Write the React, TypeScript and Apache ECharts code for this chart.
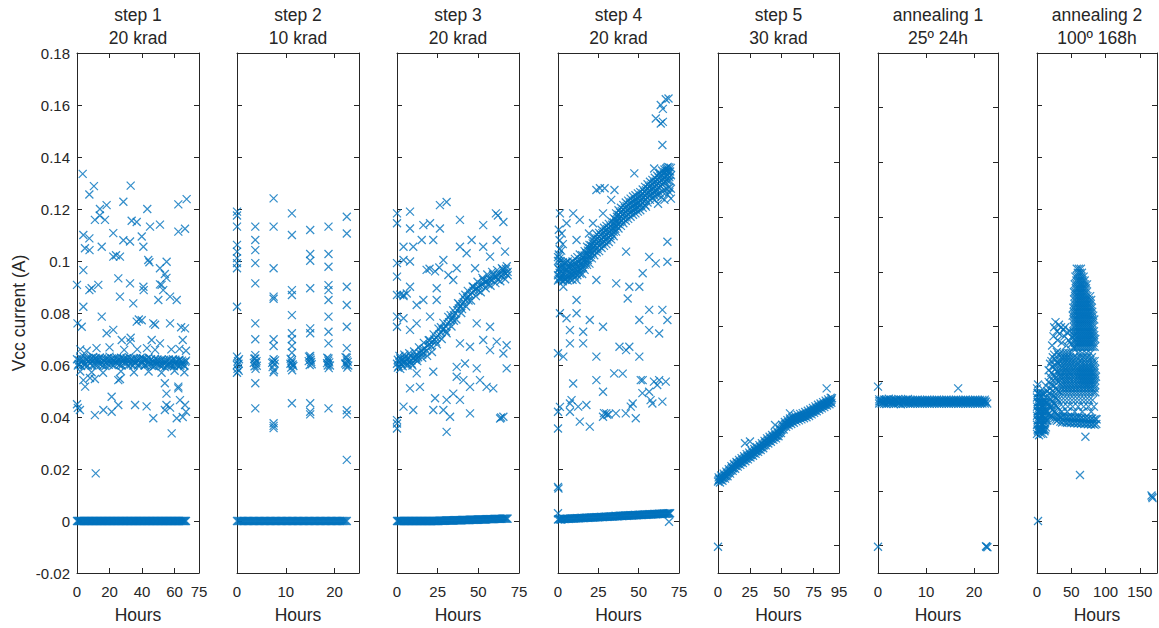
import React, { useEffect, useRef } from "react";
import * as echarts from "echarts";

// ---------- texts ----------
const panelTitles = ["step 1", "step 2", "step 3", "step 4", "step 5", "annealing 1", "annealing 2"];
const panelSubtitles = ["20 krad", "10 krad", "20 krad", "20 krad", "30 krad", "25º 24h", "100º 168h"];
const xAxisName = "Hours";
const yAxisName = "Vcc current (A)";

// ---------- x axes ----------
const xMaxes = [75, 25, 75, 75, 95, 25, 175];
const xIntervals = [20, 10, 25, 25, 25, 10, 50];
const xShowMax = [true, false, true, true, true, false, false];

// ---------- y axis ----------
const yMin = -0.02;
const yMax = 0.18;
const yInterval = 0.02;

// ---------- data: [hours, current A] ----------
const step1Zero = [[0,0],[0.5,0],[1,0],[1.5,0],[2,0],[2.5,0],[3,0],[3.5,0],[4,0],[4.5,0],[5,0],[5.5,0],[6,0],[6.5,0],[7,0],[7.5,0],[8,0],[8.5,0],[9,0],[9.5,0],[10,0],[10.5,0],[11,0],[11.5,0],[12,0],[12.5,0],[13,0],[13.5,0],[14,0],[14.5,0],[15,0],[15.5,0],[16,0],[16.5,0],[17,0],[17.5,0],[18,0],[18.5,0],[19,0],[19.5,0],[20,0],[20.5,0],[21,0],[21.5,0],[22,0],[22.5,0],[23,0],[23.5,0],[24,0],[24.5,0],[25,0],[25.5,0],[26,0],[26.5,0],[27,0],[27.5,0],[28,0],[28.5,0],[29,0],[29.5,0],[30,0],[30.5,0],[31,0],[31.5,0],[32,0],[32.5,0],[33,0],[33.5,0],[34,0],[34.5,0],[35,0],[35.5,0],[36,0],[36.5,0],[37,0],[37.5,0],[38,0],[38.5,0],[39,0],[39.5,0],[40,0],[40.5,0],[41,0],[41.5,0],[42,0],[42.5,0],[43,0],[43.5,0],[44,0],[44.5,0],[45,0],[45.5,0],[46,0],[46.5,0],[47,0],[47.5,0],[48,0],[48.5,0],[49,0],[49.5,0],[50,0],[50.5,0],[51,0],[51.5,0],[52,0],[52.5,0],[53,0],[53.5,0],[54,0],[54.5,0],[55,0],[55.5,0],[56,0],[56.5,0],[57,0],[57.5,0],[58,0],[58.5,0],[59,0],[59.5,0],[60,0],[60.5,0],[61,0],[61.5,0],[62,0],[62.5,0],[63,0],[63.5,0],[64,0],[64.5,0],[65,0],[65.5,0],[66,0],[66.5,0],[67,0]];
const step1Band = [[0,0.0622],[1,0.0604],[2,0.0628],[3,0.0611],[4,0.0633],[5,0.0603],[6,0.0619],[7,0.0627],[8,0.0606],[9,0.0616],[10,0.0631],[11,0.0601],[12,0.0621],[13,0.0609],[14,0.0629],[15,0.0612],[16,0.0598],[17,0.0624],[18,0.0607],[19,0.0618],[20,0.0632],[21,0.0603],[22,0.0614],[23,0.0626],[24,0.0608],[25,0.062],[26,0.06],[27,0.0628],[28,0.0611],[29,0.0623],[30,0.0605],[31,0.0617],[32,0.063],[33,0.0602],[34,0.0613],[35,0.0625],[36,0.0608],[37,0.0619],[38,0.0603],[39,0.0627],[40,0.0611],[41,0.0622],[42,0.06],[43,0.0616],[44,0.0629],[45,0.0606],[46,0.0596],[47,0.0612],[48,0.0624],[49,0.0603],[50,0.0615],[51,0.0598],[52,0.0621],[53,0.0607],[54,0.0592],[55,0.0618],[56,0.0603],[57,0.0612],[58,0.0597],[59,0.0622],[60,0.0606],[61,0.0614],[62,0.0599],[63,0.062],[64,0.0604],[65,0.0611],[66,0.0596],[67,0.0617],
  [0.5,0.0598],[1.5,0.0618],[2.5,0.0596],[3.5,0.0621],[4.5,0.0599],[5.5,0.0624],[6.5,0.0597],[7.5,0.0615],[8.5,0.0626],[9.5,0.0598],[10.5,0.0619],[11.5,0.0627],[12.5,0.0599],[13.5,0.0622],[14.5,0.0601],[15.5,0.0625],[16.5,0.0614],[17.5,0.0596],[18.5,0.0626],[19.5,0.0601],[20.5,0.0617],[21.5,0.0625],[22.5,0.0599],[23.5,0.0612],[24.5,0.0627],[25.5,0.0608],[26.5,0.0621],[27.5,0.0598],[28.5,0.0624],[29.5,0.0611],[30.5,0.0626],[31.5,0.0599],[32.5,0.0614],[33.5,0.0624],[34.5,0.0598],[35.5,0.061],[36.5,0.0625],[37.5,0.0598],[38.5,0.0621],[39.5,0.0604],[40.5,0.0626],[41.5,0.0598],[42.5,0.0621],[43.5,0.0603],[44.5,0.0614],[45.5,0.0622],[46.5,0.0609],[47.5,0.0595],[48.5,0.0611],[49.5,0.0621],[50.5,0.0602],[51.5,0.0616],[52.5,0.0597],[53.5,0.0619],[54.5,0.0608],[55.5,0.0596],[56.5,0.0621],[57.5,0.0603],[58.5,0.0616],[59.5,0.0595],[60.5,0.062],[61.5,0.0602],[62.5,0.0618],[63.5,0.0597],[64.5,0.0617],[65.5,0.0601],[66.5,0.0612]];
const step1Scatter = [[3.5,0.1335],[10.4,0.1288],[7.6,0.1256],[33,0.129],[28.5,0.1228],[43.2,0.12],[62.3,0.1218],[67.4,0.1238],[14.1,0.12],[14,0.1175],[18.2,0.1215],[11,0.1158],[17.2,0.1158],[33.6,0.1155],[36.7,0.115],[44.9,0.1132],[51,0.114],[62.3,0.1113],[66.4,0.1124],[3.9,0.11],[7.6,0.1087],[22.3,0.1107],[28.5,0.108],[39.8,0.1094],[32.6,0.1075],[4.9,0.1049],[7.7,0.1042],[15.2,0.1055],[40.8,0.1055],[22.3,0.1017],[24,0.1022],[26.4,0.1017],[43.8,0.1004],[44.5,0.0995],[55.1,0.0997],[51,0.0972],[3.9,0.0965],[0,0.0908],[13.1,0.0908],[7.6,0.0888],[9,0.0895],[25.4,0.0933],[32.6,0.0914],[40.8,0.0901],[41,0.0888],[52,0.0908],[53,0.0888],[54,0.095],[55,0.0935],[57.2,0.0863],[61.3,0.085],[26.4,0.0863],[34.6,0.0837],[3.9,0.0824],[50,0.085],[51,0.091],[15.2,0.0786],[0.3,0.076],[2.9,0.0747],[36.7,0.0767],[39.8,0.0772],[38,0.0775],[46.9,0.076],[48,0.0755],[57.2,0.076],[66.4,0.0741],[64,0.0745],[18.2,0.0722],[22.3,0.0735],[32.6,0.069],[51,0.0683],[45.9,0.0696],[65,0.0696],[27.5,0.0696],[33,0.0705],[2,0.066],[6,0.0655],[12,0.0665],[20,0.0668],[29,0.0658],[37,0.066],[43,0.0665],[48,0.0658],[58,0.066],[63,0.0662],[67,0.0655],[2,0.0575],[9,0.0572],[16,0.057],[27,0.0576],[35,0.0572],[44,0.0575],[52,0.057],[60,0.0578],[66,0.0572],[3.9,0.0542],[8,0.055],[5,0.0517],[11,0.0546],[25.4,0.0542],[26.4,0.0546],[54,0.053],[55,0.049],[62.3,0.051],[62.3,0.0517],[21.3,0.0478],[0,0.0449],[0.5,0.0435],[1.8,0.0427],[11,0.0407],[16.2,0.0427],[21.3,0.042],[25.4,0.0446],[35.7,0.0446],[42.8,0.0441],[46.9,0.0395],[54,0.0427],[55,0.0446],[57.2,0.0436],[61.3,0.0395],[63.3,0.0465],[65,0.04],[66.4,0.0446],[67,0.042],[58.2,0.0337],[11.5,0.0183]];

const step2Zero = [[0,0],[0.25,0],[0.5,0],[0.75,0],[1,0],[1.25,0],[1.5,0],[1.75,0],[2,0],[2.25,0],[2.5,0],[2.75,0],[3,0],[3.25,0],[3.5,0],[3.75,0],[4,0],[4.25,0],[4.5,0],[4.75,0],[5,0],[5.25,0],[5.5,0],[5.75,0],[6,0],[6.25,0],[6.5,0],[6.75,0],[7,0],[7.25,0],[7.5,0],[7.75,0],[8,0],[8.25,0],[8.5,0],[8.75,0],[9,0],[9.25,0],[9.5,0],[9.75,0],[10,0],[10.25,0],[10.5,0],[10.75,0],[11,0],[11.25,0],[11.5,0],[11.75,0],[12,0],[12.25,0],[12.5,0],[12.75,0],[13,0],[13.25,0],[13.5,0],[13.75,0],[14,0],[14.25,0],[14.5,0],[14.75,0],[15,0],[15.25,0],[15.5,0],[15.75,0],[16,0],[16.25,0],[16.5,0],[16.75,0],[17,0],[17.25,0],[17.5,0],[17.75,0],[18,0],[18.25,0],[18.5,0],[18.75,0],[19,0],[19.25,0],[19.5,0],[19.75,0],[20,0],[20.25,0],[20.5,0],[20.75,0],[21,0],[21.25,0],[21.5,0],[21.75,0],[22,0],[22.25,0],[22.5,0]];
const step2Band = [[0,0.0632],[0.2,0.0615],[0,0.06],[0.1,0.0585],[0,0.057],[0.3,0.0605],[0.4,0.0622],[0.35,0.0578],[3.75,0.0625],[3.9,0.0608],[3.6,0.0595],[3.8,0.0585],[4,0.0615],[3.45,0.0608],[4.05,0.0597],[3.55,0.0624],[7.5,0.0622],[7.7,0.0605],[7.3,0.0592],[7.6,0.058],[7.4,0.0612],[7.5,0.0572],[7.2,0.0608],[7.8,0.0618],[11.25,0.0618],[11.4,0.0602],[11.1,0.059],[11.3,0.058],[11.2,0.061],[10.95,0.0605],[11.55,0.0596],[11.0,0.0624],[15,0.0628],[15.2,0.0612],[14.9,0.06],[15.1,0.062],[15,0.0635],[14.7,0.0615],[15.3,0.0603],[14.75,0.0632],[18.75,0.0625],[18.9,0.061],[18.6,0.0598],[18.8,0.0588],[18.7,0.0617],[18.45,0.0607],[19.05,0.0598],[18.5,0.0628],[22.5,0.0628],[22.7,0.0612],[22.4,0.06],[22.6,0.059],[22.5,0.0618],[22.2,0.0606],[22.8,0.0598],[22.25,0.063]];
const step2Scatter = [[0,0.119],[0,0.1175],[0,0.1132],[0,0.1062],[0,0.1036],[0,0.1011],[0,0.0992],[0,0.0972],[0,0.0824],[3.75,0.1132],[3.75,0.1081],[3.75,0.1042],[3.75,0.0992],[3.75,0.0914],[3.75,0.076],[3.75,0.0699],[3.75,0.0638],[3.75,0.053],[3.75,0.0433],[7.5,0.1241],[7.5,0.1132],[7.5,0.0972],[7.5,0.0863],[7.5,0.0855],[7.5,0.0699],[7.5,0.0673],[7.5,0.0376],[7.5,0.0366],[7.5,0.0357],[11.25,0.1183],[11.25,0.11],[11.25,0.0888],[11.25,0.0869],[11.25,0.0792],[11.25,0.0722],[11.25,0.0699],[11.25,0.0673],[11.25,0.0647],[11.25,0.0453],[15,0.1119],[15,0.1027],[15,0.1001],[15,0.0895],[15,0.0741],[15,0.0722],[15,0.0453],[15,0.042],[15,0.041],[18.75,0.1132],[18.75,0.1027],[18.75,0.0978],[18.75,0.0907],[18.75,0.0888],[18.75,0.085],[18.75,0.0786],[18.75,0.0728],[18.75,0.0683],[18.75,0.0433],[22.5,0.117],[22.5,0.1106],[22.5,0.0901],[22.5,0.0831],[22.5,0.0747],[22.5,0.0665],[22.5,0.0426],[22.5,0.041],[22.5,0.0235]];

const step3Zero = [[0,0],[0.5,0],[1,0],[1.5,0],[2,0],[2.5,0],[3,0],[3.5,0],[4,0],[4.5,0],[5,0],[5.5,0],[6,0],[6.5,0],[7,0],[7.5,0],[8,0],[8.5,0],[9,0],[9.5,0],[10,0],[10.5,0],[11,0],[11.5,0],[12,0],[12.5,0],[13,0],[13.5,0],[14,0],[14.5,0],[15,0],[15.5,0],[16,0],[16.5,0],[17,0],[17.5,0],[18,0],[18.5,0],[19,0],[19.5,0],[20,0],[20.5,0],[21,0],[21.5,0],[22,0],[22.5,0],[23,0],[23.5,0],[24,0],[24.5,0],[25,0],[25.5,0],[26,0.0001],[26.5,0.0001],[27,0.0001],[27.5,0.0001],[28,0.0001],[28.5,0.0001],[29,0.0001],[29.5,0.0001],[30,0.0002],[30.5,0.0002],[31,0.0002],[31.5,0.0002],[32,0.0002],[32.5,0.0002],[33,0.0002],[33.5,0.0002],[34,0.0002],[34.5,0.0002],[35,0.0003],[35.5,0.0003],[36,0.0003],[36.5,0.0003],[37,0.0003],[37.5,0.0003],[38,0.0003],[38.5,0.0003],[39,0.0003],[39.5,0.0003],[40,0.0004],[40.5,0.0004],[41,0.0004],[41.5,0.0004],[42,0.0004],[42.5,0.0004],[43,0.0004],[43.5,0.0004],[44,0.0004],[44.5,0.0004],[45,0.0005],[45.5,0.0005],[46,0.0005],[46.5,0.0005],[47,0.0005],[47.5,0.0005],[48,0.0005],[48.5,0.0005],[49,0.0005],[49.5,0.0005],[50,0.0006],[50.5,0.0006],[51,0.0006],[51.5,0.0006],[52,0.0006],[52.5,0.0006],[53,0.0006],[53.5,0.0006],[54,0.0006],[54.5,0.0006],[55,0.0007],[55.5,0.0007],[56,0.0007],[56.5,0.0007],[57,0.0007],[57.5,0.0007],[58,0.0007],[58.5,0.0007],[59,0.0007],[59.5,0.0007],[60,0.0008],[60.5,0.0008],[61,0.0008],[61.5,0.0008],[62,0.0008],[62.5,0.0008],[63,0.0008],[63.5,0.0008],[64,0.0008],[64.5,0.0008],[65,0.0009],[65.5,0.0009],[66,0.0009],[66.5,0.0009],[67,0.0009],[67.5,0.0009],[68,0.0009]];
const step3Band = [[0,0.0605],[0.5,0.062],[1,0.0595],[1.5,0.0612],[2,0.0625],[2.5,0.0605],[3,0.0618],[4,0.0608],[4.5,0.0625],[5,0.0612],[6,0.062],[6.5,0.0605],[7,0.0628],[8,0.0615],[8.5,0.0632],[9,0.0618],[10,0.0625],[11,0.0635],[11.5,0.062],[12,0.064],[13,0.063],[14,0.0645],[15,0.0655],[15.5,0.064],[16,0.066],[17,0.0665],[18,0.0655],[19,0.0675],[20,0.068],[21,0.0672],[22,0.069],[23,0.0698],[24,0.0705],[25,0.0712],[26,0.0718],[27,0.0725],[28,0.0735],[29,0.074],[30,0.0748],[31,0.0758],[32,0.0765],[33,0.0772],[34,0.078],[35,0.0792],[36,0.0798],[37,0.081],[38,0.0818],[39,0.0825],[40,0.0835],[41,0.0842],[42,0.085],[43,0.0858],[44,0.0865],[45,0.087],[46,0.0878],[47,0.0885],[48,0.0888],[49,0.0895],[50,0.09],[51,0.0905],[52,0.091],[53,0.0912],[54,0.0918],[55,0.0922],[56,0.0925],[57,0.093],[58,0.0928],[59,0.0935],[60,0.0938],[61,0.094],[62,0.0945],[63,0.0948],[64,0.0942],[65,0.095],[66,0.0955],[67,0.0952],[68,0.0958],[2,0.0585],[5,0.0632],[9,0.0605],[12,0.0625],[16,0.0645],[20,0.0695],[24,0.069],[27,0.0745],[30,0.073],[33,0.0792],[35,0.077],[38,0.0835],[40,0.0815],[42,0.087],[44,0.0848],[47,0.09],[50,0.0885],[53,0.0928],[56,0.091],[59,0.0948],[62,0.0928],[65,0.0968],[68,0.0945],[67,0.097],
  [1.5,0.0635],[4.5,0.064],[7.5,0.0645],[10.5,0.0652],[13.5,0.0668],[16.5,0.0685],[19.5,0.0695],[22.5,0.0718],[25.5,0.074],[28.5,0.0762],[31.5,0.0785],[34.5,0.081],[37.5,0.0838],[40.5,0.0862],[43.5,0.0885],[46.5,0.0902],[49.5,0.092],[52.5,0.0935],[55.5,0.0948],[58.5,0.0958],[61.5,0.0965],[64.5,0.0972],[67.5,0.098],
  [0.5,0.059],[3.5,0.0595],[6.5,0.0598],[9.5,0.0598],[12.5,0.0615],[15.5,0.0628],[18.5,0.0635],[21.5,0.065],[24.5,0.068],[27.5,0.07],[30.5,0.0722],[33.5,0.0748],[36.5,0.0775],[39.5,0.08],[42.5,0.0825],[45.5,0.0848],[48.5,0.0865],[51.5,0.088],[54.5,0.0895],[57.5,0.0905],[60.5,0.0915],[63.5,0.0922],[66.5,0.093]];
const step3Scatter = [[0,0.1183],[0,0.1145],[8,0.119],[26.4,0.1215],[30.5,0.1227],[38.7,0.1158],[60.8,0.1183],[62,0.1175],[65.4,0.115],[53,0.1138],[16.2,0.1138],[20.3,0.1145],[8,0.1125],[26.4,0.1125],[15.2,0.1081],[22.3,0.1081],[4,0.1055],[10,0.1055],[45.9,0.1081],[53,0.1055],[61.3,0.1081],[66.4,0.1036],[38.7,0.1055],[42.8,0.103],[57.2,0.1017],[28.5,0.1004],[4,0.1004],[8,0.0998],[0,0.0992],[18.2,0.0966],[20,0.097],[23.4,0.096],[26,0.0975],[31.6,0.0946],[34.6,0.0927],[36.7,0.0972],[48,0.0972],[0,0.094],[2,0.087],[4,0.0865],[6,0.0875],[8,0.0901],[24.4,0.0895],[4,0.0869],[0,0.0869],[16.2,0.085],[24.4,0.085],[12.1,0.0831],[4,0.078],[12.1,0.076],[20.3,0.0786],[0,0.0786],[0,0.0747],[8,0.0735],[49,0.076],[57.2,0.0747],[38.7,0.0683],[44.9,0.067],[53,0.0696],[61.3,0.069],[67.4,0.0676],[57.2,0.0657],[65.4,0.0644],[67.4,0.0587],[36.7,0.0593],[41.8,0.0606],[49,0.0587],[12.1,0.0568],[22.3,0.0574],[36.7,0.0555],[40.8,0.0542],[44.9,0.0516],[51,0.0542],[14.1,0.0516],[8,0.051],[55.1,0.0516],[59.2,0.051],[34.6,0.049],[38.7,0.0466],[23.4,0.0472],[30.5,0.0466],[4,0.044],[10,0.0427],[22.3,0.0427],[28.5,0.0427],[32.6,0.0401],[44.9,0.0414],[0,0.0388],[63.4,0.0394],[65.4,0.0401],[64,0.0398],[0,0.0356],[30.5,0.0343],[0,0.0375]];

const step4Zero = [[0,0.0006],[0.5,0.0007],[1,0.0007],[1.5,0.0006],[2,0.0006],[2.5,0.0007],[3,0.0008],[3.5,0.0008],[4,0.0007],[4.5,0.0008],[5,0.0008],[5.5,0.0009],[6,0.0009],[6.5,0.0008],[7,0.0008],[7.5,0.0009],[8,0.0009],[8.5,0.001],[9,0.001],[9.5,0.0009],[10,0.0009],[10.5,0.001],[11,0.001],[11.5,0.0011],[12,0.0011],[12.5,0.001],[13,0.001],[13.5,0.0011],[14,0.0011],[14.5,0.0012],[15,0.0012],[15.5,0.0011],[16,0.0011],[16.5,0.0012],[17,0.0012],[17.5,0.0013],[18,0.0013],[18.5,0.0012],[19,0.0012],[19.5,0.0013],[20,0.0013],[20.5,0.0014],[21,0.0014],[21.5,0.0013],[22,0.0013],[22.5,0.0014],[23,0.0014],[23.5,0.0015],[24,0.0015],[24.5,0.0014],[25,0.0014],[25.5,0.0015],[26,0.0015],[26.5,0.0016],[27,0.0016],[27.5,0.0015],[28,0.0015],[28.5,0.0016],[29,0.0016],[29.5,0.0017],[30,0.0017],[30.5,0.0016],[31,0.0016],[31.5,0.0017],[32,0.0017],[32.5,0.0018],[33,0.0018],[33.5,0.0017],[34,0.0017],[34.5,0.0018],[35,0.0018],[35.5,0.0019],[36,0.0019],[36.5,0.0018],[37,0.0018],[37.5,0.0019],[38,0.0019],[38.5,0.002],[39,0.002],[39.5,0.0019],[40,0.0019],[40.5,0.002],[41,0.002],[41.5,0.0021],[42,0.0021],[42.5,0.002],[43,0.002],[43.5,0.0021],[44,0.0021],[44.5,0.0022],[45,0.0022],[45.5,0.0021],[46,0.0021],[46.5,0.0022],[47,0.0022],[47.5,0.0023],[48,0.0023],[48.5,0.0022],[49,0.0022],[49.5,0.0023],[50,0.0023],[50.5,0.0024],[51,0.0024],[51.5,0.0023],[52,0.0023],[52.5,0.0024],[53,0.0024],[53.5,0.0025],[54,0.0025],[54.5,0.0024],[55,0.0024],[55.5,0.0025],[56,0.0025],[56.5,0.0026],[57,0.0026],[57.5,0.0025],[58,0.0025],[58.5,0.0026],[59,0.0026],[59.5,0.0027],[60,0.0027],[60.5,0.0026],[61,0.0026],[61.5,0.0027],[62,0.0027],[62.5,0.0028],[63,0.0028],[63.5,0.0027],[64,0.0027],[64.5,0.0028],[65,0.0028],[65.5,0.0029],[66,0.0029],[66.5,0.0028],[67,0.0028],[67.5,0.0029],[68,0.0029],[68.5,0.003],[69,0.0029],[69.5,0.003]];
const step4Band = [[0,0.0945],[0.5,0.097],[1,0.0955],[1.5,0.093],[2,0.0962],[2.5,0.0985],[3,0.095],[4,0.0958],[5,0.0942],[6,0.0962],[7,0.0955],[8,0.097],[9,0.0962],[10,0.0975],[11,0.0968],[12,0.098],[13,0.0975],[14,0.099],[15,0.0985],[16,0.1],[17,0.1005],[18,0.102],[19,0.1025],[20,0.1038],[21,0.1045],[22,0.1055],[23,0.106],[24,0.1068],[25,0.107],[26,0.108],[27,0.1085],[28,0.1092],[29,0.1095],[30,0.11],[31,0.1108],[32,0.111],[33,0.1118],[34,0.1125],[35,0.1135],[36,0.1148],[37,0.1155],[38,0.1165],[39,0.117],[40,0.1178],[41,0.1182],[42,0.119],[43,0.1195],[44,0.12],[45,0.1205],[46,0.121],[47,0.1215],[48,0.1218],[49,0.1222],[50,0.1225],[51,0.123],[52,0.1238],[53,0.1245],[54,0.125],[55,0.1258],[56,0.1265],[57,0.127],[58,0.1275],[59,0.128],[60,0.1285],[61,0.129],[62,0.1298],[63,0.1305],[64,0.131],[65,0.1315],[66,0.132],[67,0.1325],[68,0.133],[69,0.1322],[70,0.133],
  [0,0.1015],[1.5,0.1],[3,0.0995],[4.5,0.0992],[6,0.0998],[7.5,0.0992],[9,0.0998],[10.5,0.1008],[12,0.1015],[13.5,0.1025],[15,0.1022],[16.5,0.1038],[18,0.1055],[19.5,0.1062],[21,0.108],[22.5,0.1092],[24,0.1103],[25.5,0.1108],[27,0.112],[28.5,0.1128],[30,0.1135],[31.5,0.1143],[33,0.1153],[34.5,0.1165],[36,0.1183],[37.5,0.1195],[39,0.1205],[40.5,0.1215],[42,0.1225],[43.5,0.1232],[45,0.124],[46.5,0.1248],[48,0.1253],[49.5,0.126],[51,0.1265],[52.5,0.1275],[54,0.1285],[55.5,0.1295],[57,0.1305],[58.5,0.1312],[60,0.132],[61.5,0.1328],[63,0.134],[64.5,0.1348],[66,0.1352],[67.5,0.1358],[69,0.136],[70,0.1358],
  [0,0.0925],[1.5,0.0935],[3,0.0922],[4.5,0.0928],[6,0.0925],[7.5,0.093],[9,0.0928],[10.5,0.094],[12,0.0945],[13.5,0.0952],[15,0.095],[16.5,0.0966],[18,0.0985],[19.5,0.099],[21,0.101],[22.5,0.1022],[24,0.1033],[25.5,0.1038],[27,0.105],[28.5,0.1058],[30,0.1065],[31.5,0.1073],[33,0.1083],[34.5,0.1095],[36,0.1113],[37.5,0.1125],[39,0.1135],[40.5,0.1145],[42,0.1155],[43.5,0.1162],[45,0.117],[46.5,0.1178],[48,0.1183],[49.5,0.119],[51,0.1195],[52.5,0.1205],[54,0.1215],[55.5,0.1225],[57,0.1235],[58.5,0.1242],[60,0.125],[61.5,0.1255],[63,0.1262],[64.5,0.1268],[66,0.1272],[67.5,0.1278],[69,0.1282],[70,0.1278],
  [1,0.101],[2,0.104],[1,0.1045],[0.5,0.1025],[0,0.1],[5,0.0995],[60,0.1235],[62,0.122],[64,0.1245],[66,0.1235],[68,0.1255],[70,0.124],[69,0.1265],[61,0.1268],[63,0.1335],[67,0.1355],[68,0.1362]];
const step4BandFill = [[0.5,0.0968],[1.5,0.0976],[2.5,0.0974],[3.5,0.0972],[4.5,0.0968],[5.5,0.097],[6.5,0.0976],[7.5,0.098],[8.5,0.0984],[9.5,0.0986],[10.5,0.099],[11.5,0.0992],[12.5,0.0996],[13.5,0.1],[14.5,0.1006],[15.5,0.1011],[16.5,0.1021],[17.5,0.103],[18.5,0.104],[19.5,0.105],[20.5,0.106],[21.5,0.1068],[22.5,0.1076],[23.5,0.1082],[24.5,0.1087],[25.5,0.1093],[26.5,0.1101],[27.5,0.1107],[28.5,0.1112],[29.5,0.1116],[30.5,0.1122],[31.5,0.1127],[32.5,0.1132],[33.5,0.114],[34.5,0.1148],[35.5,0.116],[36.5,0.117],[37.5,0.1178],[38.5,0.1186],[39.5,0.1192],[40.5,0.1198],[41.5,0.1204],[42.5,0.1211],[43.5,0.1216],[44.5,0.1221],[45.5,0.1226],[46.5,0.1231],[47.5,0.1235],[48.5,0.1238],[49.5,0.1242],[50.5,0.1246],[51.5,0.1252],[52.5,0.126],[53.5,0.1266],[54.5,0.1272],[55.5,0.128],[56.5,0.1286],[57.5,0.1291],[58.5,0.1296],[59.5,0.1301],[60.5,0.1306],[61.5,0.1312],[62.5,0.132],[63.5,0.1326],[64.5,0.1331],[65.5,0.1336],[66.5,0.1341],[67.5,0.1346],[68.5,0.1344],[69.5,0.1344],
  [0.5,0.0932],[1.5,0.094],[2.5,0.0938],[3.5,0.0936],[4.5,0.0932],[5.5,0.0934],[6.5,0.094],[7.5,0.0944],[8.5,0.0948],[9.5,0.095],[10.5,0.0954],[11.5,0.0956],[12.5,0.096],[13.5,0.0964],[14.5,0.097],[15.5,0.0975],[16.5,0.0985],[17.5,0.0994],[18.5,0.1004],[19.5,0.1014],[20.5,0.1024],[21.5,0.1032],[22.5,0.104],[23.5,0.1046],[24.5,0.1051],[25.5,0.1057],[26.5,0.1065],[27.5,0.1071],[28.5,0.1076],[29.5,0.108],[30.5,0.1086],[31.5,0.1091],[32.5,0.1096],[33.5,0.1104],[34.5,0.1112],[35.5,0.1124],[36.5,0.1134],[37.5,0.1142],[38.5,0.115],[39.5,0.1156],[40.5,0.1162],[41.5,0.1168],[42.5,0.1175],[43.5,0.118],[44.5,0.1185],[45.5,0.119],[46.5,0.1195],[47.5,0.1199],[48.5,0.1202],[49.5,0.1206],[50.5,0.121],[51.5,0.1216],[52.5,0.1224],[53.5,0.123],[54.5,0.1236],[55.5,0.1244],[56.5,0.125],[57.5,0.1255],[58.5,0.126],[59.5,0.1265],[60.5,0.127],[61.5,0.1276],[62.5,0.1284],[63.5,0.129],[64.5,0.1295],[65.5,0.13],[66.5,0.1305],[67.5,0.131],[68.5,0.1308],[69.5,0.1308]];
const step4Scatter = [[66.8,0.1622],[68.5,0.1625],[63.7,0.16],[65,0.1585],[60.6,0.1548],[63.7,0.1529],[65,0.1535],[64.7,0.1446],[47.3,0.1337],[59.6,0.1356],[23.8,0.1273],[26,0.128],[28.9,0.128],[35,0.1273],[33,0.1235],[54.5,0.1209],[1.2,0.1183],[9.4,0.1183],[5.3,0.1145],[13.5,0.1158],[21.7,0.1145],[27.9,0.1183],[19.2,0.1106],[2.3,0.1106],[11.5,0.1081],[0.5,0.112],[1,0.108],[3,0.1065],[42.2,0.1036],[56.5,0.1016],[60.6,0.0991],[67.8,0.1074],[67.8,0.0997],[52.5,0.0953],[50.4,0.0901],[36.1,0.0914],[44.2,0.0901],[43.2,0.0856],[23.8,0.0927],[11.5,0.0927],[3.3,0.0901],[11.5,0.085],[1.2,0.0799],[5.3,0.078],[11.5,0.0799],[19.7,0.0773],[27.9,0.0747],[7.4,0.0734],[15.6,0.0728],[50.4,0.0773],[56.5,0.0812],[64.7,0.0812],[67.8,0.0773],[56.5,0.0734],[62.7,0.0721],[7.4,0.0683],[0,0.0645],[3.3,0.0632],[15.6,0.0683],[23.8,0.0632],[38.1,0.067],[42.2,0.0657],[44.2,0.067],[50.4,0.0632],[40.1,0.0567],[9.4,0.0529],[23.8,0.0542],[27.9,0.0497],[52.5,0.0542],[56.5,0.0497],[62.7,0.0542],[66.8,0.0536],[7.4,0.0452],[17.6,0.0446],[1.2,0.0439],[46.3,0.0452],[58.5,0.0452],[64.7,0.0459],[29.9,0.0414],[27.9,0.0401],[30.6,0.0408],[31.5,0.041],[28.5,0.0415],[19.7,0.0363],[13.5,0.0382],[7.4,0.042],[0,0.042],[0,0.0356],[8.4,0.0465],[12.5,0.044],[35.9,0.0414],[42,0.0414],[48.2,0.0395],[45.1,0.044],[52.3,0.0492],[57.4,0.0465],[61.5,0.0523],[51.3,0.0542],[59.5,0.0536],[34.8,0.0568],[0,0.0131],[0.3,0.0125],[0,0.003],[68.8,-0.0003]];

const step5Band = [[0,0.0152],[1,0.0162],[2,0.0158],[3,0.0168],[4,0.0165],[5,0.0175],[6,0.0172],[7,0.0182],[8,0.0185],[9,0.0192],[10,0.0195],[11,0.0205],[12,0.0203],[13,0.0214],[14,0.0212],[15,0.0222],[16,0.0219],[17,0.0228],[18,0.0226],[19,0.0235],[20,0.0234],[21,0.0242],[22,0.024],[23,0.0249],[24,0.0247],[25,0.0256],[26,0.0254],[27,0.0263],[28,0.0261],[29,0.027],[30,0.0268],[31,0.0277],[32,0.0276],[33,0.0285],[34,0.0283],[35,0.0292],[36,0.0291],[37,0.0301],[38,0.0302],[39,0.031],[40,0.0308],[41,0.0317],[42,0.0315],[43,0.0324],[44,0.0322],[45,0.033],[46,0.0328],[47,0.0337],[48,0.0338],[49,0.0347],[50,0.0352],[51,0.0362],[52,0.0365],[53,0.0373],[54,0.0372],[55,0.038],[56,0.0378],[57,0.0386],[58,0.0383],[59,0.0391],[60,0.0389],[61,0.0395],[62,0.0393],[63,0.0399],[64,0.0397],[65,0.0402],[66,0.04],[67,0.0406],[68,0.0404],[69,0.041],[70,0.0409],[71,0.0416],[72,0.0414],[73,0.0421],[74,0.042],[75,0.0427],[76,0.0425],[77,0.0433],[78,0.0432],[79,0.0439],[80,0.0437],[81,0.0444],[82,0.0442],[83,0.0449],[84,0.0447],[85,0.0455],[86,0.0453],[87,0.046],[88,0.0458],[89,0.0466],[89.5,0.0472],
  [0.5,0.0168],[2.5,0.0175],[4.5,0.0182],[6.5,0.019],[8.5,0.0199],[10.5,0.0211],[12.5,0.0219],[14.5,0.0227],[16.5,0.0235],[18.5,0.0242],[20.5,0.0249],[22.5,0.0257],[24.5,0.0263],[26.5,0.027],[28.5,0.0277],[30.5,0.0284],[32.5,0.0292],[34.5,0.0299],[36.5,0.0308],[38.5,0.0318],[40.5,0.0324],[42.5,0.0331],[44.5,0.0338],[46.5,0.0344],[48.5,0.0355],[50.5,0.037],[52.5,0.0381],[54.5,0.0388],[56.5,0.0394],[58.5,0.0399],[60.5,0.0404],[62.5,0.0408],[64.5,0.0412],[66.5,0.0415],[68.5,0.0419],[70.5,0.0424],[72.5,0.0429],[74.5,0.0435],[76.5,0.0441],[78.5,0.0447],[80.5,0.0452],[82.5,0.0457],[84.5,0.0463],[86.5,0.0468],[88.5,0.0474],
  [1.5,0.0148],[3.5,0.0155],[5.5,0.0163],[7.5,0.0172],[9.5,0.0182],[11.5,0.0193],[13.5,0.0201],[15.5,0.0209],[17.5,0.0216],[19.5,0.0223],[21.5,0.023],[23.5,0.0237],[25.5,0.0244],[27.5,0.0251],[29.5,0.0258],[31.5,0.0266],[33.5,0.0273],[35.5,0.028],[37.5,0.0291],[39.5,0.0298],[41.5,0.0305],[43.5,0.0312],[45.5,0.0318],[47.5,0.0326],[49.5,0.0338],[51.5,0.0352],[53.5,0.0362],[55.5,0.0368],[57.5,0.0373],[59.5,0.0378],[61.5,0.0383],[63.5,0.0387],[65.5,0.0391],[67.5,0.0395],[69.5,0.0399],[71.5,0.0404],[73.5,0.041],[75.5,0.0416],[77.5,0.0422],[79.5,0.0428],[81.5,0.0433],[83.5,0.0438],[85.5,0.0444],[87.5,0.0449],[89,0.0455]];
const step5BandFill = [[0.5,0.0157],[1.5,0.016],[2.5,0.0163],[3.5,0.0166],[4.5,0.017],[5.5,0.0173],[6.5,0.0177],[7.5,0.0183],[8.5,0.0188],[9.5,0.0193],[10.5,0.02],[11.5,0.0204],[12.5,0.0208],[13.5,0.0213],[14.5,0.0217],[15.5,0.022],[16.5,0.0223],[17.5,0.0227],[18.5,0.023],[19.5,0.0234],[20.5,0.0238],[21.5,0.0241],[22.5,0.0244],[23.5,0.0248],[24.5,0.0251],[25.5,0.0255],[26.5,0.0258],[27.5,0.0262],[28.5,0.0265],[29.5,0.0269],[30.5,0.0272],[31.5,0.0276],[32.5,0.028],[33.5,0.0284],[34.5,0.0287],[35.5,0.0291],[36.5,0.0296],[37.5,0.0301],[38.5,0.0306],[39.5,0.0309],[40.5,0.0312],[41.5,0.0316],[42.5,0.0319],[43.5,0.0323],[44.5,0.0326],[45.5,0.0329],[46.5,0.0332],[47.5,0.0337],[48.5,0.0342],[49.5,0.0349],[50.5,0.0357],[51.5,0.0363],[52.5,0.0369],[53.5,0.0372],[54.5,0.0376],[55.5,0.0379],[56.5,0.0382],[57.5,0.0384],[58.5,0.0387],[59.5,0.039],[60.5,0.0392],[61.5,0.0394],[62.5,0.0396],[63.5,0.0398],[64.5,0.04],[65.5,0.0401],[66.5,0.0403],[67.5,0.0405],[68.5,0.0407],[69.5,0.0409],[70.5,0.0412],[71.5,0.0415],[72.5,0.0417],[73.5,0.042],[74.5,0.0423],[75.5,0.0426],[76.5,0.0429],[77.5,0.0432],[78.5,0.0435],[79.5,0.0438],[80.5,0.044],[81.5,0.0443],[82.5,0.0446],[83.5,0.0448],[84.5,0.0451],[85.5,0.0454],[86.5,0.0456],[87.5,0.0459],[88.5,0.0462]];
const step5Scatter = [[21.2,0.0299],[25.1,0.0306],[44.8,0.0369],[56.5,0.0414],[85.3,0.051],[0,-0.0099]];

const anneal1Band = [[0.5,0.0462],[1,0.0457],[1.5,0.0466],[2,0.0459],[2.5,0.0463],[3,0.0456],[3.5,0.0465],[4,0.046],[4.5,0.0455],[5,0.0463],[5.5,0.0458],[6,0.0464],[6.5,0.0457],[7,0.0461],[7.5,0.0456],[8,0.0462],[8.5,0.0459],[9,0.0461],[9.5,0.0458],[10,0.046],[10.5,0.0458],[11,0.0461],[11.5,0.0458],[12,0.046],[12.5,0.0458],[13,0.0461],[13.5,0.0458],[14,0.046],[14.5,0.0458],[15,0.0461],[15.5,0.0458],[16,0.046],[16.5,0.0458],[17,0.0461],[17.5,0.0458],[18,0.046],[18.5,0.0458],[19,0.0461],[19.5,0.0458],[20,0.046],[20.5,0.0458],[21,0.0461],[21.5,0.0458],[22,0.046],[22.5,0.0459],
  [0.25,0.0468],[1.25,0.0467],[2.25,0.047],[3.25,0.0468],[4.25,0.0469],[5.25,0.0467],[6.25,0.0469],[7.25,0.0466],[8.25,0.0467],[9.25,0.0466],[10.25,0.0467],[11.25,0.0466],[12.25,0.0467],[13.25,0.0466],[14.25,0.0467],[15.25,0.0466],[16.25,0.0467],[17.25,0.0466],[18.25,0.0467],[19.25,0.0466],[20.25,0.0467],[21.25,0.0466],[22.25,0.0467],
  [0.75,0.0452],[1.75,0.045],[2.75,0.0453],[3.75,0.0451],[4.75,0.0449],[5.75,0.0452],[6.75,0.0451],[7.75,0.0452],[8.75,0.0451],[9.75,0.0452],[10.75,0.0451],[11.75,0.0452],[12.75,0.0451],[13.75,0.0452],[14.75,0.0451],[15.75,0.0452],[16.75,0.0451],[17.75,0.0452],[18.75,0.0451],[19.75,0.0452],[20.75,0.0451],[21.75,0.0452],[22.75,0.0452]];
const anneal1BandFill = [[0.25,0.046],[0.75,0.0461],[1.25,0.0459],[1.75,0.0462],[2.25,0.0458],[2.75,0.0461],[3.25,0.046],[3.75,0.0462],[4.25,0.0459],[4.75,0.0461],[5.25,0.046],[5.75,0.0461],[6.25,0.0459],[6.75,0.046],[7.25,0.0459],[7.75,0.046],[8.25,0.0459],[8.75,0.046],[9.25,0.0459],[9.75,0.046],[10.25,0.0459],[10.75,0.046],[11.25,0.0459],[11.75,0.046],[12.25,0.0459],[12.75,0.046],[13.25,0.0459],[13.75,0.046],[14.25,0.0459],[14.75,0.046],[15.25,0.0459],[15.75,0.046],[16.25,0.0459],[16.75,0.046],[17.25,0.0459],[17.75,0.046],[18.25,0.0459],[18.75,0.046],[19.25,0.0459],[19.75,0.046],[20.25,0.0459],[20.75,0.046],[21.25,0.0459],[21.75,0.046],[22.25,0.0459],
  [0.75,0.0467],[1.75,0.0468],[2.75,0.0466],[3.75,0.0467],[4.75,0.0466],[5.75,0.0467],[6.75,0.0466],[7.75,0.0466],[8.75,0.0466],[9.75,0.0466],[10.75,0.0466],[11.75,0.0466],[12.75,0.0466],[13.75,0.0466],[14.75,0.0466],[15.75,0.0466],[16.75,0.0466],[17.75,0.0466],[18.75,0.0466],[19.75,0.0466],[20.75,0.0466],[21.75,0.0466],
  [0.25,0.0452],[1.25,0.0451],[2.25,0.0452],[3.25,0.0451],[4.25,0.0452],[5.25,0.0451],[6.25,0.0452],[7.25,0.0452],[8.25,0.0452],[9.25,0.0452],[10.25,0.0452],[11.25,0.0452],[12.25,0.0452],[13.25,0.0452],[14.25,0.0452],[15.25,0.0452],[16.25,0.0452],[17.25,0.0452],[18.25,0.0452],[19.25,0.0452],[20.25,0.0452],[21.25,0.0452],[22.25,0.0452]];
const anneal1Scatter = [[0,0.0517],[16.7,0.051],[0,-0.0099],[22.6,-0.0099],[22.8,-0.0101],[22.5,-0.0097]];

const anneal2Left = [[0,0.0335],[0,0.037],[0,0.0405],[0,0.044],[0,0.0475],[0,0.051],[1.5,0.0345],[1.5,0.0385],[1.5,0.042],[1.5,0.0455],[1.5,0.049],[1.5,0.0525],[3,0.033],[3,0.0365],[3,0.04],[3,0.0435],[3,0.047],[4.5,0.0345],[4.5,0.038],[4.5,0.0415],[4.5,0.045],[4.5,0.0485],[6,0.0335],[6,0.037],[6,0.0405],[6,0.044],[6,0.048],[7.5,0.035],[7.5,0.0385],[7.5,0.042],[7.5,0.0455],[9,0.0335],[9,0.037],[9,0.0405],[9,0.0445],[9,0.049],[11,0.0345],[11,0.038],[11,0.0415],[11,0.046],[13,0.036],[13,0.0395],[13,0.043],[13,0.0475],[13,0.052],[15,0.0385],[15,0.042],[15,0.0455],[15,0.05],
  [0.75,0.0352],[2.25,0.0352],[3.75,0.0352],[5.25,0.0352],[6.75,0.0352],[8.25,0.0352],[10,0.0352],[12,0.0352],[0.75,0.0388],[2.25,0.0388],[3.75,0.0388],[5.25,0.0388],[6.75,0.0388],[8.25,0.0388],[10,0.0388],[12,0.0388],[14,0.0388],[0.75,0.0422],[2.25,0.0422],[3.75,0.0422],[5.25,0.0422],[6.75,0.0422],[8.25,0.0422],[10,0.0422],[12,0.0422],[14,0.0422],[0.75,0.0457],[2.25,0.0457],[3.75,0.0457],[5.25,0.0457],[6.75,0.0457],[8.25,0.0457],[10,0.0457],[12,0.0457],[14,0.0457],[0.75,0.0492],[2.25,0.0492],[5.25,0.0492],[8.25,0.0492],[12,0.0492]];
const anneal2Stem = [[17,0.041],[17,0.045],[17,0.049],[17,0.0535],[17,0.058],[19,0.04],[19,0.0435],[19,0.047],[19,0.051],[19,0.0555],[19,0.0605],[21,0.0405],[21,0.0445],[21,0.0485],[21,0.0525],[21,0.057],[21,0.0615],[23,0.04],[23,0.043],[23,0.046],[23,0.05],[23,0.054],[23,0.059],[23,0.063],[25,0.0395],[25,0.042],[25,0.045],[25,0.048],[25,0.052],[25,0.056],[25,0.06],[25,0.064],[27,0.039],[27,0.0415],[27,0.0445],[27,0.0475],[27,0.051],[27,0.055],[27,0.0585],[27,0.062],[29,0.0385],[29,0.041],[29,0.044],[29,0.047],[29,0.0505],[29,0.054],[29,0.0575],[29,0.061],[29,0.065],[31,0.039],[31,0.0405],[31,0.0435],[31,0.0465],[31,0.05],[31,0.0535],[31,0.057],[31,0.0605],[31,0.064]];
const anneal2Bar = [[33,0.0402],[35.5,0.0399],[38,0.0403],[40.5,0.04],[43,0.0398],[45.5,0.0401],[48,0.0397],[50.5,0.04],[53,0.0396],[55.5,0.0399],[58,0.0395],[60.5,0.0398],[63,0.0394],[65.5,0.0397],[68,0.0393],[70.5,0.0396],[73,0.0392],[75.5,0.0395],[78,0.0391],[80.5,0.0394],[83,0.039],[85.5,0.0393],[87,0.0391],[34,0.0382],[36.5,0.0379],[39,0.0383],[41.5,0.038],[44,0.0378],[46.5,0.0381],[49,0.0377],[51.5,0.038],[54,0.0376],[56.5,0.0379],[59,0.0375],[61.5,0.0378],[64,0.0374],[66.5,0.0377],[69,0.0373],[71.5,0.0376],[74,0.0372],[76.5,0.0375],[79,0.0371],[81.5,0.0374],[84,0.037],[86.5,0.0373]];
const anneal2Blob = [[34,0.0645],[38,0.0645],[42,0.0645],[46,0.0645],[50,0.0645],[60,0.0645],[66,0.0645],[72,0.0645],[78,0.0645],[33,0.0615],[36,0.0615],[40,0.0615],[44,0.0615],[48,0.0615],[52,0.0615],[56,0.0615],[62,0.0615],[65,0.0615],[69,0.0615],[73,0.0615],[77,0.0615],[81,0.0615],[84,0.0615],[34,0.0585],[38,0.0585],[42,0.0585],[46,0.0585],[50,0.0585],[54,0.0585],[58,0.0585],[61,0.0585],[64,0.0585],[67,0.0585],[70,0.0585],[73,0.0585],[76,0.0585],[79,0.0585],[82,0.0585],[85,0.0585],[33,0.0555],[36,0.0555],[40,0.0555],[44,0.0555],[47,0.0555],[51,0.0555],[55,0.0555],[59,0.0555],[62,0.0555],[65,0.0555],[68,0.0555],[71,0.0555],[74,0.0555],[77,0.0555],[80,0.0555],[83,0.0555],[86,0.0555],[35,0.0525],[39,0.0525],[43,0.0525],[47,0.0525],[51,0.0525],[55,0.0525],[59,0.0525],[63,0.0525],[66,0.0525],[69,0.0525],[72,0.0525],[75,0.0525],[78,0.0525],[81,0.0525],[84,0.0525],[34,0.0495],[38,0.0495],[42,0.0495],[46,0.0495],[50,0.0495],[54,0.0495],[58,0.0495],[62,0.0495],[66,0.0495],[70,0.0495],[74,0.0495],[78,0.0495],[82,0.0495],[85,0.0495],[36,0.0465],[41,0.0465],[46,0.0465],[51,0.0465],[56,0.0465],[61,0.0465],[66,0.0465],[71,0.0465],[76,0.0465],[81,0.0465],[38,0.044],[45,0.044],[52,0.044],[60,0.044],[68,0.044],[75,0.044],[83,0.044],[36,0.042],[44,0.042],[55,0.042],[66,0.042],[79,0.042],
  [36,0.063],[40,0.063],[44,0.063],[48,0.063],[53,0.063],[58,0.063],[63,0.063],[68,0.063],[74,0.063],[80,0.063],[35,0.06],[39,0.06],[43,0.06],[47,0.06],[51,0.06],[55,0.06],[59,0.06],[63,0.06],[67,0.06],[71,0.06],[75,0.06],[79,0.06],[83,0.06],[35,0.057],[38,0.057],[42,0.057],[46,0.057],[49,0.057],[53,0.057],[57,0.057],[60,0.057],[63,0.057],[66,0.057],[69,0.057],[72,0.057],[75,0.057],[78,0.057],[81,0.057],[84,0.057],[34,0.054],[38,0.054],[42,0.054],[45,0.054],[49,0.054],[53,0.054],[57,0.054],[61,0.054],[64,0.054],[67,0.054],[70,0.054],[73,0.054],[76,0.054],[79,0.054],[82,0.054],[85,0.054],[36,0.051],[40,0.051],[44,0.051],[48,0.051],[52,0.051],[56,0.051],[60,0.051],[64,0.051],[68,0.051],[72,0.051],[76,0.051],[80,0.051],[84,0.051]];
const anneal2Bump = [[22,0.0675],[24,0.071],[25,0.0745],[27,0.0765],[29,0.073],[30,0.0695],[32,0.0755],[33,0.072],[35,0.0745],[36,0.0685],[38,0.0735],[40,0.071],[41,0.0745],[43,0.0675],[44,0.0725],[46,0.0695],[48,0.073],[50,0.068],[52,0.0705],[54,0.0665]];
const anneal2Column = [[58,0.097],[61,0.097],[64,0.097],[56,0.094],[59,0.094],[62,0.094],[65,0.094],[68,0.094],[55,0.091],[58,0.091],[61,0.091],[64,0.091],[67,0.091],[70,0.091],[73,0.091],[54,0.088],[57,0.088],[60,0.088],[63,0.088],[66,0.088],[69,0.088],[72,0.088],[55,0.085],[58,0.085],[61,0.085],[64,0.085],[67,0.085],[70,0.085],[73,0.085],[76,0.085],[79,0.085],[53,0.082],[56,0.082],[59,0.082],[62,0.082],[65,0.082],[68,0.082],[71,0.082],[74,0.082],[77,0.082],[80,0.082],[52,0.079],[55,0.079],[58,0.079],[61,0.079],[64,0.079],[67,0.079],[70,0.079],[73,0.079],[76,0.079],[79,0.079],[82,0.079],[54,0.076],[57,0.076],[60,0.076],[63,0.076],[66,0.076],[69,0.076],[72,0.076],[75,0.076],[78,0.076],[81,0.076],[53,0.073],[56,0.073],[59,0.073],[62,0.073],[65,0.073],[68,0.073],[71,0.073],[74,0.073],[77,0.073],[80,0.073],[83,0.073],[55,0.07],[58,0.07],[61,0.07],[64,0.07],[67,0.07],[70,0.07],[73,0.07],[76,0.07],[79,0.07],[82,0.07],[85,0.07],[54,0.067],[57,0.067],[60,0.067],[63,0.067],[66,0.067],[69,0.067],[72,0.067],[75,0.067],[78,0.067],[81,0.067],[84,0.067],
  [59.5,0.0955],[62.5,0.0955],[65.5,0.0955],[57.5,0.0925],[60.5,0.0925],[63.5,0.0925],[66.5,0.0925],[69.5,0.0925],[56.5,0.0895],[59.5,0.0895],[62.5,0.0895],[65.5,0.0895],[68.5,0.0895],[71.5,0.0895],[55.5,0.0865],[58.5,0.0865],[61.5,0.0865],[64.5,0.0865],[67.5,0.0865],[70.5,0.0865],[73.5,0.0865],[77.5,0.0865],[54.5,0.0835],[57.5,0.0835],[60.5,0.0835],[63.5,0.0835],[66.5,0.0835],[69.5,0.0835],[72.5,0.0835],[75.5,0.0835],[78.5,0.0835],[53.5,0.0805],[56.5,0.0805],[59.5,0.0805],[62.5,0.0805],[65.5,0.0805],[68.5,0.0805],[71.5,0.0805],[74.5,0.0805],[77.5,0.0805],[80.5,0.0805],[53.5,0.0775],[56.5,0.0775],[59.5,0.0775],[62.5,0.0775],[65.5,0.0775],[68.5,0.0775],[71.5,0.0775],[74.5,0.0775],[77.5,0.0775],[80.5,0.0775],[83.5,0.0775],[54.5,0.0745],[57.5,0.0745],[60.5,0.0745],[63.5,0.0745],[66.5,0.0745],[69.5,0.0745],[72.5,0.0745],[75.5,0.0745],[78.5,0.0745],[81.5,0.0745],[53.5,0.0715],[56.5,0.0715],[59.5,0.0715],[62.5,0.0715],[65.5,0.0715],[68.5,0.0715],[71.5,0.0715],[74.5,0.0715],[77.5,0.0715],[80.5,0.0715],[83.5,0.0715],[55.5,0.0685],[58.5,0.0685],[61.5,0.0685],[64.5,0.0685],[67.5,0.0685],[70.5,0.0685],[73.5,0.0685],[76.5,0.0685],[79.5,0.0685],[82.5,0.0685]];
const anneal2Scatter = [[70.6,0.0324],[62.7,0.0177],[168,0.0093],[167,0.0098],[168.5,0.0088],[1.5,0]];

const panelData = [
  [step1Zero, step1Band, step1Scatter],
  [step2Zero, step2Band, step2Scatter],
  [step3Zero, step3Band, step3Scatter],
  [step4Zero, step4Band, step4BandFill, step4Scatter],
  [step5Band, step5BandFill, step5Scatter],
  [anneal1Band, anneal1BandFill, anneal1Scatter],
  [anneal2Left, anneal2Stem, anneal2Bar, anneal2Blob, anneal2Bump, anneal2Column, anneal2Scatter],
];

// ---------- layout / style ----------
const GRID_LEFTS = [77, 237, 397, 558, 718, 878, 1037];
const GRID_WIDTHS = [122, 122, 122, 121, 121, 120, 120];
const GRID_TOP = 53;
const GRID_H = 520;
const SHIFTED_TICK_PANELS = [4, 5];
const INK = "#262626";
const BLUE = "#0072BD";
const FONT = "'Liberation Sans', Arial, Helvetica, sans-serif";
const X_MARK = "path://M0,0L10,10M10,0L0,10";

function buildOption() {
  const grid: any[] = [];
  const xAxis: any[] = [];
  const yAxis: any[] = [];
  const series: any[] = [];
  const elements: any[] = [];
  const axisLine = { show: true, onZero: false, lineStyle: { color: INK, width: 1 } };
  const axisTick = { show: true, inside: true, length: 5, lineStyle: { color: INK, width: 1 } };

  panelTitles.forEach((t, i) => {
    grid.push({ left: GRID_LEFTS[i], top: GRID_TOP, width: GRID_WIDTHS[i], height: GRID_H, containLabel: false, outerBoundsMode: "none" });
    const xc = { type: "value", gridIndex: i, min: 0, max: xMaxes[i], interval: xIntervals[i], axisLine, axisTick, splitLine: { show: false } };
    xAxis.push({
      ...xc, position: "bottom",
      axisLabel: { show: true, color: INK, fontSize: 15, fontFamily: FONT, margin: 11, showMinLabel: true, showMaxLabel: xShowMax[i], hideOverlap: false },
      name: xAxisName, nameLocation: "middle", nameGap: 33,
      nameTextStyle: { color: INK, fontSize: 17.5, fontFamily: FONT },
    });
    xAxis.push({ ...xc, position: "top", axisLabel: { show: false } });

    const shifted = SHIFTED_TICK_PANELS.includes(i);
    const yc = shifted
      ? { type: "value", gridIndex: i, min: 0, max: 9.5, interval: 1, inverse: true }
      : { type: "value", gridIndex: i, min: yMin, max: yMax, interval: yInterval };
    yAxis.push({
      ...yc, position: "left", axisLine, axisTick, splitLine: { show: false },
      axisLabel: { show: i === 0, color: INK, fontSize: 15, fontFamily: FONT, margin: 7, showMinLabel: true, showMaxLabel: true },
    });
    yAxis.push({ ...yc, position: "right", axisLine, axisTick, splitLine: { show: false }, axisLabel: { show: false } });
    yAxis.push({ type: "value", gridIndex: i, min: yMin, max: yMax, show: false, splitLine: { show: false } });

    panelData[i].forEach((d) => {
      series.push({
        type: "scatter", xAxisIndex: i * 2, yAxisIndex: i * 3 + 2, data: d,
        symbol: X_MARK, symbolSize: 8, clip: false, silent: true,
        itemStyle: { color: "rgba(0,0,0,0)", borderColor: BLUE, borderWidth: 1.25 },
        emphasis: { disabled: true },
      });
    });

    const cx = GRID_LEFTS[i] + GRID_WIDTHS[i] / 2;
    elements.push({ type: "text", x: cx, y: 15, style: { text: t, fill: INK, fontSize: 17.5, fontFamily: FONT, align: "center", verticalAlign: "middle" } });
    elements.push({ type: "text", x: cx, y: 37.5, style: { text: panelSubtitles[i], fill: INK, fontSize: 17.5, fontFamily: FONT, align: "center", verticalAlign: "middle" } });
  });

  elements.push({
    type: "text", x: 19, y: GRID_TOP + GRID_H / 2, rotation: Math.PI / 2,
    style: { text: yAxisName, fill: INK, fontSize: 17.5, fontFamily: FONT, align: "center", verticalAlign: "middle" },
  });

  return {
    animation: false,
    backgroundColor: "#ffffff",
    textStyle: { fontFamily: FONT },
    grid, xAxis, yAxis, series,
    graphic: { elements },
  };
}

export default function App() {
  const ref = useRef<HTMLDivElement>(null);
  useEffect(() => {
    if (!ref.current) return;
    const chart = echarts.init(ref.current, undefined, { renderer: "svg" });
    chart.setOption(buildOption() as any);
    return () => chart.dispose();
  }, []);
  return <div ref={ref} style={{ position: "absolute", left: 0, top: 0, width: 1159, height: 628, background: "#fff" }} />;
}
